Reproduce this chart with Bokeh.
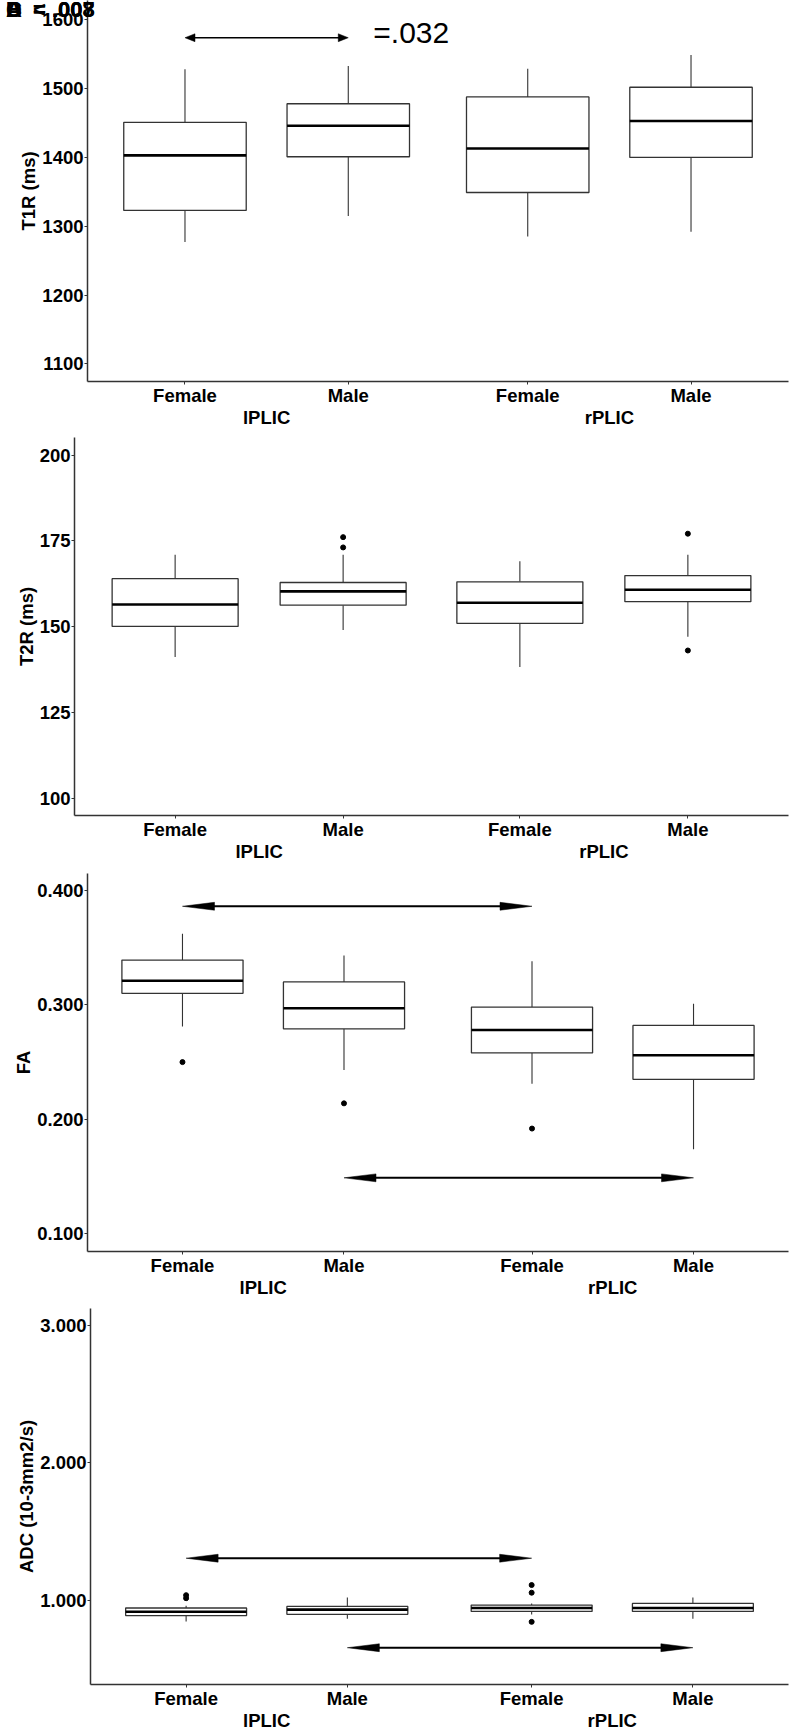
import html
from bokeh.plotting import figure
from bokeh.models import (FactorRange, Range1d, FixedTicker, NumeralTickFormatter, Label,
                          ColumnDataSource, CategoricalAxis, Div)
from bokeh.layouts import column, row
from bokeh.embed import file_html
from bokeh.resources import INLINE

regions = ["lPLIC", "rPLIC"]
sexes = ["Female", "Male"]
factors = [(r, s) for r in regions for s in sexes]

# ---- T1R (ms)
t1r_low = [1277, 1315, 1285, 1292]
t1r_q1 = [1323, 1401, 1349, 1400]
t1r_med = [1403, 1446, 1413, 1453]
t1r_q3 = [1451, 1478, 1488, 1502]
t1r_high = [1528, 1533, 1529, 1549]
t1r_out_x = []
t1r_out_y = []
t1r_ticks = [1100, 1200, 1300, 1400, 1500, 1600]
t1r_cmp = [(("lPLIC", "Female"), ("lPLIC", "Male"), 1574)]
t1r_p = "=.032"

# ---- T2R (ms)
t2r_low = [141.2, 149.1, 138.3, 147.1]
t2r_q1 = [150.1, 156.3, 151.0, 157.3]
t2r_med = [156.5, 160.3, 157.0, 160.8]
t2r_q3 = [164.0, 162.9, 163.1, 164.9]
t2r_high = [171.0, 171.0, 169.1, 171.0]
t2r_out_x = [("lPLIC", "Male"), ("lPLIC", "Male"), ("rPLIC", "Male"), ("rPLIC", "Male")]
t2r_out_y = [176.1, 173.1, 177.1, 143.1]
t2r_ticks = [100, 125, 150, 175, 200]
t2r_cmp = []

# ---- FA
fa_low = [0.281, 0.243, 0.231, 0.174]
fa_q1 = [0.310, 0.279, 0.258, 0.235]
fa_med = [0.321, 0.297, 0.278, 0.256]
fa_q3 = [0.339, 0.320, 0.298, 0.282]
fa_high = [0.362, 0.343, 0.338, 0.301]
fa_out_x = [("lPLIC", "Female"), ("lPLIC", "Male"), ("rPLIC", "Female")]
fa_out_y = [0.250, 0.214, 0.192]
fa_ticks = [0.1, 0.2, 0.3, 0.4]
fa_cmp = [(("lPLIC", "Female"), ("rPLIC", "Female"), 0.386),
          (("lPLIC", "Male"), ("rPLIC", "Male"), 0.149)]

# ---- ADC
adc_low = [0.845, 0.864, 0.895, 0.864]
adc_q1 = [0.888, 0.897, 0.918, 0.918]
adc_med = [0.916, 0.931, 0.943, 0.943]
adc_q3 = [0.943, 0.954, 0.964, 0.976]
adc_high = [0.959, 1.019, 0.976, 1.019]
adc_out_x = [("lPLIC", "Female"), ("lPLIC", "Female"), ("rPLIC", "Female"),
             ("rPLIC", "Female"), ("rPLIC", "Female")]
adc_out_y = [1.036, 1.014, 1.110, 1.054, 0.842]
adc_ticks = [1.0, 2.0, 3.0]
adc_cmp = [(("lPLIC", "Female"), ("rPLIC", "Female"), 1.305),
           (("lPLIC", "Male"), ("rPLIC", "Male"), 0.654)]

# overlapping panel tags / p-values at the top-left corner
corner_tags = ["A", "B", "C", "D"]
corner_pvals = ["< .007", "= .008", "= .003"]

FONT = "Liberation Sans"
FS = "18.5px"
AX = "#333333"
FIG_W = 799
BR = 11


def syn(f, gp):
    return (0.5 if f[1] == "Female" else 1.5) + (0 if f[0] == "lPLIC" else 2 + gp)


def style_text(obj, prefix):
    setattr(obj, prefix + "_font", FONT)
    setattr(obj, prefix + "_font_size", FS)
    setattr(obj, prefix + "_font_style", "bold")
    setattr(obj, prefix + "_color", "black")


def make_panel(height, bl, bt, bb, y0, y1, gp, pad, ticks, fmt, ylabel,
               low, q1, med, q3, high, ox, oy, cmps, head_len, head_hw, arrow_w):
    frame_w = FIG_W - bl - BR
    frame_h = height - bt - bb
    xr = FactorRange(factors=factors, factor_padding=0, group_padding=gp,
                     range_padding=pad, range_padding_units="absolute")
    p = figure(x_range=xr, y_range=Range1d(y0, y1), width=FIG_W, height=height,
               output_backend="svg", toolbar_location=None,
               min_border_left=bl, min_border_right=BR, min_border_top=bt, min_border_bottom=bb)
    p.xgrid.visible = False
    p.ygrid.visible = False
    p.outline_line_color = None

    xa = p.xaxis[0]
    xa.axis_line_width = 1.5
    xa.axis_line_color = AX
    xa.major_tick_out = 3
    xa.major_tick_in = 0
    xa.major_tick_line_color = AX
    style_text(xa, "major_label_text")
    xa.major_label_standoff = 0
    # group level is drawn by a second axis below, to control its spacing
    xa.group_text_font_size = "1px"
    xa.group_text_alpha = 0
    xa.separator_line_alpha = 0

    p.extra_x_ranges = {"grp": FactorRange(factors=regions, factor_padding=gp / 2,
                                           range_padding=pad / 2, range_padding_units="absolute")}
    gax = CategoricalAxis(x_range_name="grp")
    gax.axis_line_color = None
    gax.major_tick_line_color = None
    gax.minor_tick_line_color = None
    gax.major_tick_out = 0
    gax.major_tick_in = 0
    gax.major_label_standoff = -2
    style_text(gax, "major_label_text")
    p.add_layout(gax, "below")

    ya = p.yaxis[0]
    ya.ticker = FixedTicker(ticks=ticks)
    ya.formatter = NumeralTickFormatter(format=fmt)
    ya.axis_line_width = 1.5
    ya.axis_line_color = AX
    ya.major_tick_out = 3
    ya.major_tick_in = 0
    ya.major_tick_line_color = AX
    ya.minor_tick_line_color = None
    style_text(ya, "major_label_text")
    ya.major_label_standoff = 1
    ya.axis_label = ylabel
    style_text(ya, "axis_label_text")
    ya.axis_label_standoff = 0

    src = ColumnDataSource(dict(x=factors, low=low, q1=q1, med=med, q3=q3, high=high))
    p.segment(x0="x", y0="q3", x1="x", y1="high", source=src, line_color=AX, line_width=1.1)
    p.segment(x0="x", y0="low", x1="x", y1="q1", source=src, line_color=AX, line_width=1.1)
    p.vbar(x="x", bottom="q1", top="q3", width=0.75, source=src,
           fill_color="white", line_color=AX, line_width=1.3)
    p.vbar(x="x", bottom="med", top="med", width=0.75, source=src,
           fill_alpha=0, line_color="black", line_width=2.6)
    if ox:
        p.scatter(x=ox, y=oy, size=5, color="black")

    # comparison arrows
    u = frame_w / (4 + gp + 2 * pad)
    ppu = frame_h / (y1 - y0)
    dl = head_len / u
    dh = head_hw / ppu
    xs, ys, sx0, sx1, sy = [], [], [], [], []
    for a, b, yv in cmps:
        xa_, xb_ = syn(a, gp), syn(b, gp)
        sx0.append(xa_ + dl * 0.5)
        sx1.append(xb_ - dl * 0.5)
        sy.append(yv)
        xs.append([xa_, xa_ + dl, xa_ + dl])
        ys.append([yv, yv + dh, yv - dh])
        xs.append([xb_, xb_ - dl, xb_ - dl])
        ys.append([yv, yv + dh, yv - dh])
    if cmps:
        p.segment(x0=sx0, y0=sy, x1=sx1, y1=sy, line_color="black", line_width=arrow_w)
        p.patches(xs=xs, ys=ys, fill_color="black", line_color="black", line_width=0.5)
    return p


p1 = make_panel(430, 87, 0, 44, 1074.3, 1628.1, 0.099, 0.097, t1r_ticks, "0", "T1R (ms)",
                t1r_low, t1r_q1, t1r_med, t1r_q3, t1r_high, t1r_out_x, t1r_out_y, t1r_cmp,
                10, 4, 1.5)
p2 = make_panel(434, 74, 7, 43, 95.07, 205.1, 0.052, 0.099, t2r_ticks, "0", "T2R (ms)",
                t2r_low, t2r_q1, t2r_med, t2r_q3, t2r_high, t2r_out_x, t2r_out_y, t2r_cmp,
                10, 4, 1.5)
p3 = make_panel(436, 87, 9, 44, 0.0847, 0.4146, 0.164, 0.088, fa_ticks, "0.000", "FA",
                fa_low, fa_q1, fa_med, fa_q3, fa_high, fa_out_x, fa_out_y, fa_cmp,
                32, 4, 2)
p4 = make_panel(433, 90, 8, 43, 0.3865, 3.121, 0.143, 0.093, adc_ticks, "0.000", "ADC (10-3mm2/s)",
                adc_low, adc_q1, adc_med, adc_q3, adc_high, adc_out_x, adc_out_y, adc_cmp,
                32, 4, 2)

# p-value annotation in the T1R panel
p1.add_layout(Label(x=syn(t1r_cmp[0][1], 0.099), y=t1r_cmp[0][2], x_offset=25, y_offset=5,
                    text=t1r_p, text_baseline="alphabetic", text_font=FONT,
                    text_font_size="30px", text_color="black"))

# overlapping corner texts (outside any plot frame, so drawn as an overlaid Div)
spans = "".join(f'<span style="position:absolute;left:1px;top:-18px">{html.escape(t)}</span>'
                for t in corner_tags)
spans += "".join(f'<span style="position:absolute;left:28px;top:-18px">{html.escape(t)}</span>'
                 for t in corner_pvals)
corner = Div(text=(f'<div style="position:relative;font-family:\'Liberation Sans\';font-weight:bold;'
                   f'font-size:22px;line-height:22px;white-space:nowrap;color:black">{spans}</div>'),
             styles={"position": "absolute", "left": "0px", "top": "0px", "z-index": "5"},
             width=110, height=24)

layout = column(row(p1), row(p2), row(p3), row(p4), corner)
open("out.html", "w").write(file_html(layout, INLINE))
